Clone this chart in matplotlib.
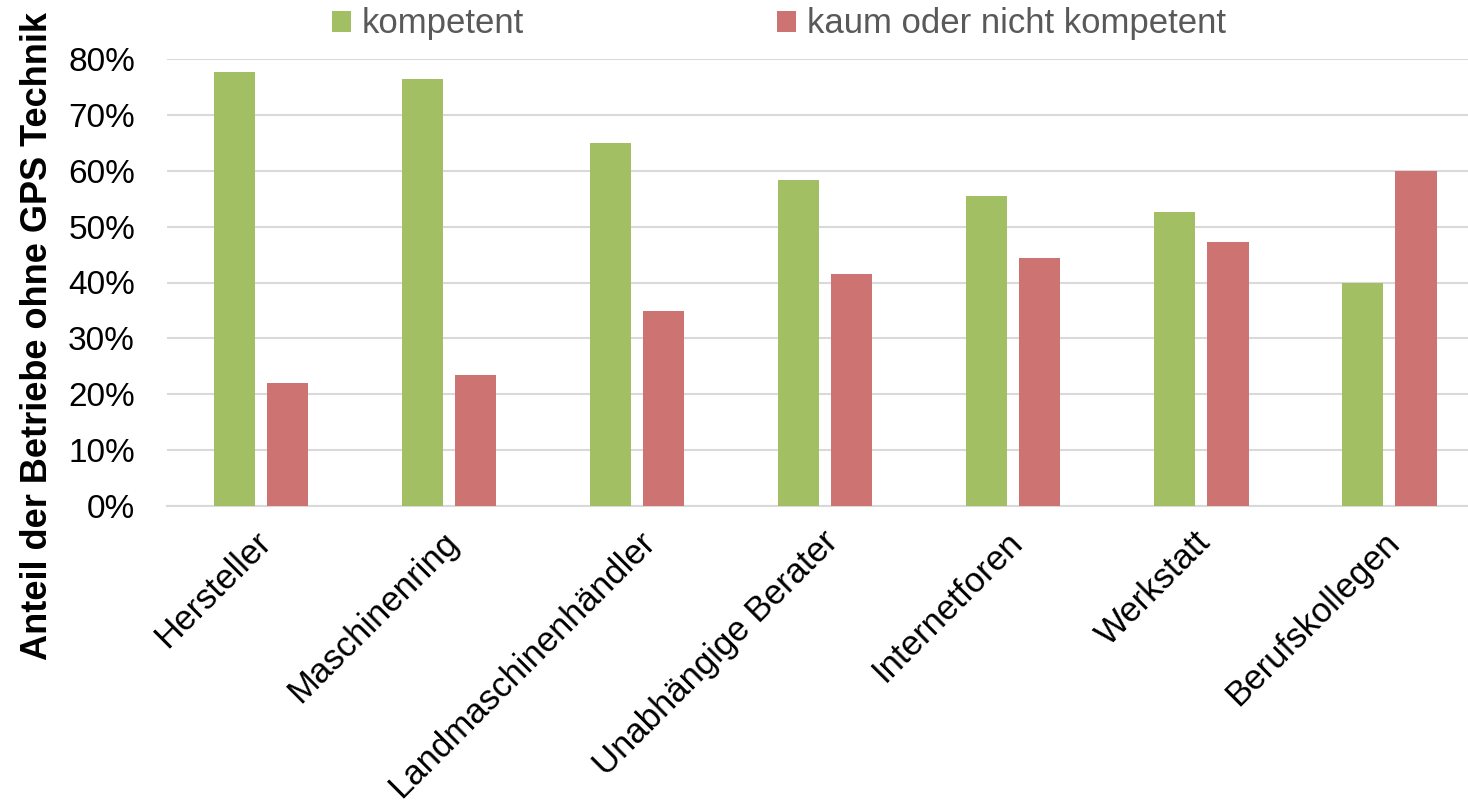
import numpy as np
import matplotlib
matplotlib.use("Agg")
import matplotlib.pyplot as plt
from matplotlib.ticker import PercentFormatter
from matplotlib.transforms import ScaledTranslation

plt.rcParams['font.family'] = ['Liberation Sans', 'DejaVu Sans']

# Data
categories = ["Hersteller", "Maschinenring", "Landmaschinenhändler",
              "Unabhängige Berater", "Internetforen", "Werkstatt", "Berufskollegen"]
kompetent = [0.777, 0.764, 0.649, 0.583, 0.555, 0.526, 0.399]
nicht_kompetent = [0.221, 0.235, 0.349, 0.416, 0.444, 0.473, 0.600]
series_names = ["kompetent", "kaum oder nicht kompetent"]
yticks = [0, 0.1, 0.2, 0.3, 0.4, 0.5, 0.6, 0.7, 0.8]

green = "#A2BF64"
red = "#CD7371"
grid_col = "#D9D9D9"

fig = plt.figure(figsize=(14.68, 8.11), dpi=100)
# axes: left 167px, right edge of figure, bottom at y=506px, top at y=59px
ax = fig.add_axes([167 / 1468, 1 - 506 / 811, 1 - 167 / 1468, (506 - 59) / 811])

x = np.arange(len(categories))
w = 0.223
off = 0.141
ax.bar(x - off, kompetent, w, color=green, label=series_names[0], zorder=3)
ax.bar(x + off, nicht_kompetent, w, color=red, label=series_names[1], zorder=3)

ax.set_xlim(-0.5, 6.42)
ax.set_ylim(0, 0.8)
ax.set_yticks(yticks)
ax.yaxis.set_major_formatter(PercentFormatter(1.0, decimals=0))
ax.yaxis.grid(True, color=grid_col, linewidth=1.5, zorder=0)
ax.set_axisbelow(True)

for s in ["top", "right", "left"]:
    ax.spines[s].set_visible(False)
ax.spines["bottom"].set_color(grid_col)
ax.spines["bottom"].set_linewidth(1.5)

ax.tick_params(axis="y", length=0, pad=23, labelsize=24, labelcolor="black")
ax.tick_params(axis="x", length=0, pad=14)
ax.set_xticks(x)
ax.set_xticklabels(categories, rotation=45, ha="right", va="top",
                   rotation_mode="anchor", fontsize=25, color="black")
# small sideways nudges of the rotated labels (pixels)
label_nudge = [-7, -7, 1, -4, -7, -7, -7]
for lbl, dx in zip(ax.get_xticklabels(), label_nudge):
    lbl.set_transform(lbl.get_transform()
                      + ScaledTranslation(dx / 100, 0, fig.dpi_scale_trans))

fig.text(38 / 1468, 1 - 336 / 811, "Anteil der Betriebe ohne GPS Technik",
         rotation=90, ha="center", va="center", fontsize=26, fontweight="bold")

fig.legend(loc="center left", bbox_to_anchor=(332 / 1468, 1 - 24 / 811), ncol=2,
           frameon=False, fontsize=25, labelcolor="#595959",
           handlelength=0.55, handleheight=0.55, handletextpad=0.3,
           columnspacing=7.3, borderaxespad=0, borderpad=0)

fig.savefig("out.png", dpi=100)
